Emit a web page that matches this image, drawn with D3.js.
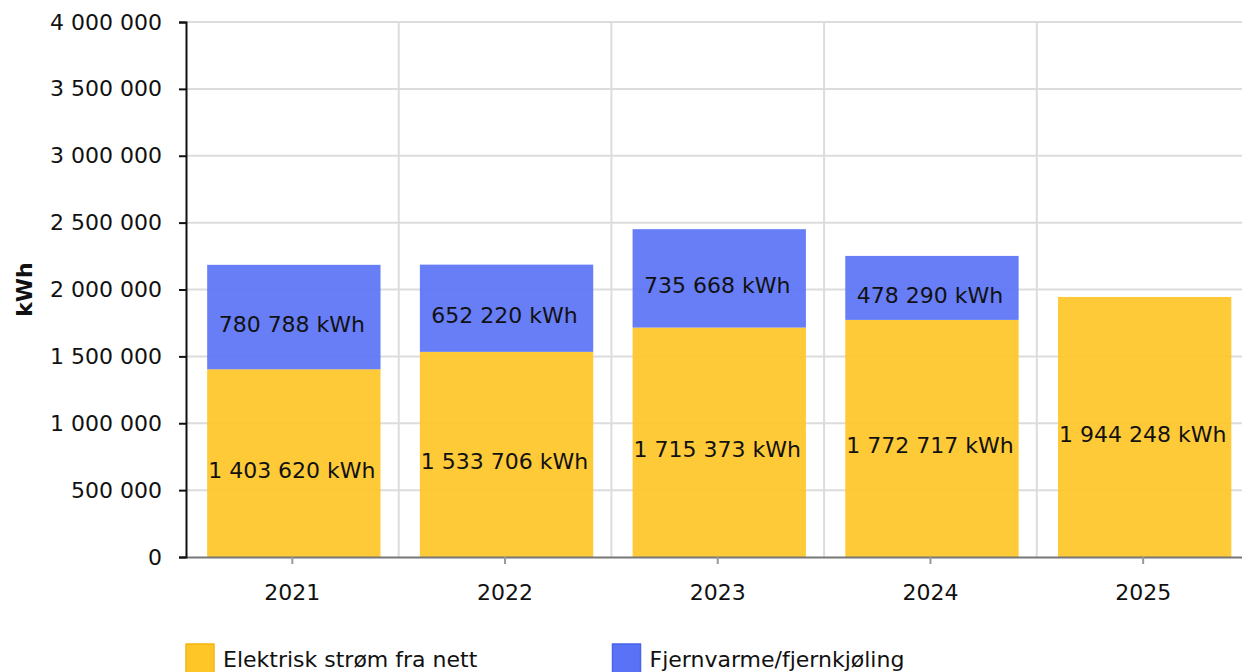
<!DOCTYPE html>
<html>
<head>
<meta charset="utf-8">
<script src="https://cdn.jsdelivr.net/npm/d3@7"></script>
<style>
  body { margin: 0; background: #fff; }
  svg { font-family: "DejaVu Sans", Verdana, sans-serif; display: block; }
</style>
</head>
<body>
<script>
// chart data
const years = ["2021", "2022", "2023", "2024", "2025"];
const elektrisk = [1403620, 1533706, 1715373, 1772717, 1944248];
const fjernvarme = [780788, 652220, 735668, 478290, 0];
const seriesNames = ["Elektrisk strøm fra nett", "Fjernvarme/fjernkjøling"];
const yTicks = [0, 500000, 1000000, 1500000, 2000000, 2500000, 3000000, 3500000, 4000000];

const width = 1242, height = 672;
const plotLeft = 186, plotRight = 1249.5, plotTop = 22, plotBottom = 557;
const colors = ["#fec626", "#5a73f6"];
const borders = ["#f3b70f", "#4a63ec"];

// space as thousands separator
const fmt = n => d3.format(",")(n).replace(/,/g, " ");

const svg = d3.select("body").append("svg")
    .attr("width", width)
    .attr("height", height);

const x = d3.scaleBand().domain(years).range([plotLeft + 1.5, plotRight + 1.5]).paddingInner(0.185).paddingOuter(0.0925);
const band = d3.scaleBand().domain(years).range([plotLeft, plotRight]);
const y = d3.scaleLinear().domain([0, 4000000]).range([plotBottom, plotTop]);

// horizontal grid
svg.append("g").selectAll("line")
    .data(yTicks.slice(1))
    .enter().append("line")
      .attr("x1", plotLeft).attr("x2", width)
      .attr("y1", d => y(d)).attr("y2", d => y(d))
      .attr("stroke", "#dcdcdc").attr("stroke-width", 2);

// vertical grid between categories
svg.append("g").selectAll("line")
    .data(years.slice(1))
    .enter().append("line")
      .attr("x1", d => band(d)).attr("x2", d => band(d))
      .attr("y1", plotTop).attr("y2", plotBottom)
      .attr("stroke", "#dcdcdc").attr("stroke-width", 2);

const stacked = d3.stack().keys([0, 1]).value((d, k) => d[k])(years.map((yr, i) => [elektrisk[i], fjernvarme[i]]));

stacked.forEach((layer, k) => {
  const g = svg.append("g");
  layer.forEach((seg, i) => {
    if (seg[1] - seg[0] <= 0) return;
    g.append("rect")
      .attr("x", x(years[i]))
      .attr("width", x.bandwidth())
      .attr("y", y(seg[1]))
      .attr("height", y(seg[0]) - y(seg[1]))
      .attr("fill", colors[k])
      .attr("fill-opacity", 0.92);
    g.append("text")
      .attr("x", band(years[i]) + band.bandwidth() / 2 - 0.5)
      .attr("y", (y(seg[0]) + y(seg[1])) / 2 + 15)
      .attr("text-anchor", "middle")
      .attr("font-size", 22)
      .attr("fill", "#111")
      .text(fmt(seg[1] - seg[0]) + " kWh");
  });
});

// x axis
const xAxis = svg.append("g")
    .attr("transform", `translate(0,${plotBottom})`)
    .call(d3.axisBottom(band).tickSize(7).tickSizeOuter(0).tickPadding(20));
xAxis.select(".domain").attr("stroke", "#777").attr("stroke-width", 2);
xAxis.selectAll(".tick line").attr("stroke", "#999").attr("stroke-width", 2);
xAxis.selectAll("text").attr("font-size", 22).attr("font-family", "DejaVu Sans").attr("fill", "#111");

// y axis
const yAxis = svg.append("g")
    .attr("transform", `translate(${plotLeft},0)`)
    .call(d3.axisLeft(y).tickValues(yTicks).tickFormat(fmt).tickSize(7).tickSizeOuter(7).tickPadding(17));
yAxis.select(".domain").attr("stroke", "#111").attr("stroke-width", 2);
yAxis.selectAll(".tick line").attr("stroke", "#111").attr("stroke-width", 2);
yAxis.selectAll("text").attr("font-size", 22).attr("font-family", "DejaVu Sans").attr("fill", "#111");

svg.append("text")
    .attr("transform", `translate(32,${(plotTop + plotBottom) / 2}) rotate(-90)`)
    .attr("text-anchor", "middle")
    .attr("font-size", 22)
    .attr("font-weight", "bold")
    .attr("fill", "#111")
    .text("kWh");

// legend
const legendX = [185, 611.5];
seriesNames.forEach((name, k) => {
  svg.append("rect")
    .attr("x", legendX[k] + 1).attr("y", 644)
    .attr("width", 28).attr("height", 30)
    .attr("fill", colors[k]).attr("stroke", borders[k]).attr("stroke-width", 1.5);
  svg.append("text")
    .attr("x", legendX[k] + 38).attr("y", 667)
    .attr("font-size", 22)
    .attr("fill", "#111")
    .text(name);
});
</script>
</body>
</html>
